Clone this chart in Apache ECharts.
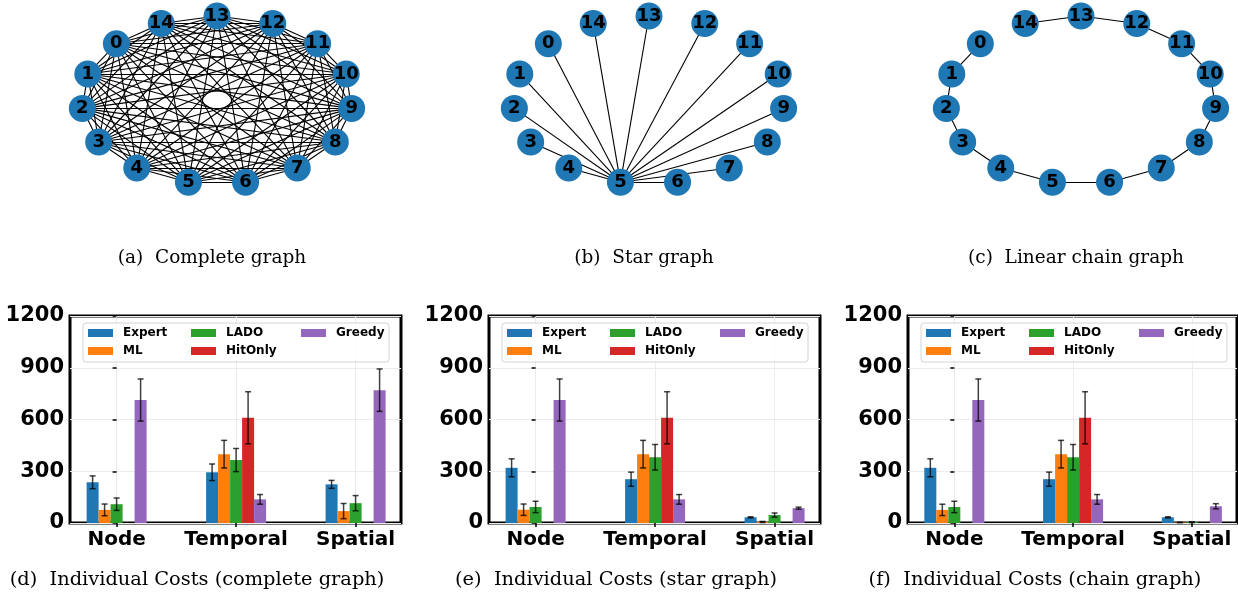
<!DOCTYPE html>
<html>
<head>
<meta charset="utf-8">
<script src="https://cdn.jsdelivr.net/npm/echarts@6.0.0/dist/echarts.min.js"></script>
<style>
  html, body { margin: 0; padding: 0; background: #fff; }
  #main { width: 1238px; height: 599px; }
</style>
</head>
<body>
<div id="main"></div>
<script>
// graph panels: 15 nodes on a circular layout (positions)
const nodeNames = ['0', '1', '2', '3', '4', '5', '6', '7', '8', '9', '10', '11', '12', '13', '14']
const nodeX = [-0.74, -0.95, -0.99, -0.87, -0.59, -0.21, 0.21, 0.59, 0.87, 0.99, 0.95, 0.74, 0.41, 0, -0.41]
const nodeY = [0.67, 0.31, -0.10, -0.50, -0.81, -0.98, -0.98, -0.81, -0.50, -0.10, 0.31, 0.67, 0.91, 1, 0.91]
const starEdges = [[5, 0], [5, 1], [5, 2], [5, 3], [5, 4], [5, 6], [5, 7], [5, 8], [5, 9], [5, 10], [5, 11], [5, 12], [5, 13], [5, 14]]
const chainEdges = [[0, 1], [1, 2], [2, 3], [3, 4], [4, 5], [5, 6], [6, 7], [7, 8], [8, 9], [9, 10], [10, 11], [11, 12], [12, 13], [13, 14]]
// complete graph = every pair of nodes
const completeEdges = []
for (let i = 0; i < nodeNames.length; i++) {
  for (let j = i + 1; j < nodeNames.length; j++) completeEdges.push([i, j])
}

// bar panels
const methods = ['Expert', 'ML', 'LADO', 'HitOnly', 'Greedy']
const methodColors = ['#1f77b4', '#ff7f0e', '#2ca02c', '#d62728', '#9467bd']
const costCategories = ['Node', 'Temporal', 'Spatial']
// rows follow methods, columns follow costCategories
const completeMean = [[236, 294, 224], [76, 399, 69], [109, 365, 115], [null, 610, null], [713, 137, 770]]
const completeErr = [[37, 48, 23], [34, 80, 44], [36, 67, 44], [null, 151, null], [122, 28, 123]]
const starMean = [[320, 254, 33], [77, 399, 6], [93, 381, 46], [null, 610, null], [713, 137, 86]]
const starErr = [[52, 41, 3], [33, 80, 3], [33, 74, 12], [null, 151, null], [122, 28, 6]]
const chainMean = [[320, 254, 33], [76, 399, 3], [93, 381, 5], [null, 610, null], [713, 137, 97]]
const chainErr = [[52, 41, 3], [33, 80, 1], [33, 74, 2], [null, 151, null], [122, 28, 15]]

const graphCaptions = ['(a)  Complete graph', '(b)  Star graph', '(c)  Linear chain graph']
const costCaptions = ['(d)  Individual Costs (complete graph)', '(e)  Individual Costs (star graph)', '(f)  Individual Costs (chain graph)']

const sans = 'DejaVu Sans'
const graphLefts = [81, 513, 945]
const barLefts = [70, 489, 908]
const barWidths = [331, 331, 329]
const barW = 12
const legendColumns = [['Expert', 'ML'], ['LADO', 'HitOnly'], ['Greedy']]
const legendOffsets = [18, 121, 231]

const chart = echarts.init(document.getElementById('main'))

const grids = []
const xAxes = []
const yAxes = []
const series = []
const legends = []
const graphics = []

// graph panels
const edgeSets = [completeEdges, starEdges, chainEdges]
edgeSets.forEach((edges, p) => {
  grids.push({ left: graphLefts[p], top: 16, width: 272, height: 168, show: false })
  xAxes.push({ type: 'value', gridIndex: p, min: -1, max: 1, show: false })
  yAxes.push({ type: 'value', gridIndex: p, min: -1, max: 1, show: false })
  series.push({
    type: 'graph',
    coordinateSystem: 'cartesian2d',
    xAxisIndex: p,
    yAxisIndex: p,
    silent: true,
    symbolSize: 27,
    itemStyle: { color: '#1f77b4' },
    label: {
      show: true, position: 'inside', formatter: '{b}',
      color: '#000', fontFamily: sans, fontWeight: 'bold', fontSize: 18
    },
    lineStyle: { color: '#000', width: 1.1, opacity: 1 },
    data: nodeNames.map((n, i) => ({ name: n, value: [nodeX[i], nodeY[i]] })),
    links: edges.map(e => ({ source: e[0], target: e[1] }))
  })
  graphics.push({
    type: 'text', x: graphLefts[p] + 131, y: 258,
    style: { text: graphCaptions[p], font: '18.5px "DejaVu Serif"', fill: '#000', textAlign: 'center', textVerticalAlign: 'middle' }
  })
})

// bar panels
const means = [completeMean, starMean, chainMean]
const errs = [completeErr, starErr, chainErr]
means.forEach((mean, p) => {
  const g = p + 3
  grids.push({
    left: barLefts[p], top: 316, width: barWidths[p], height: 207,
    show: true, borderColor: '#000', borderWidth: 3, backgroundColor: 'transparent'
  })
  xAxes.push({
    type: 'value', gridIndex: g, min: -0.39, max: 2.38,
    axisLine: { show: false },
    axisTick: { show: true, customValues: [0, 1, 2], length: 4, lineStyle: { color: '#000', width: 1.5 } },
    axisLabel: {
      customValues: [0, 1, 2],
      formatter: v => costCategories[Math.round(v)],
      color: '#000', fontFamily: sans, fontWeight: 'bold', fontSize: 20, margin: 7
    },
    splitLine: { show: true, lineStyle: { color: '#ebebeb', width: 1 } }
  })
  yAxes.push({
    type: 'value', gridIndex: g, min: 0, max: 1200, interval: 300,
    axisLine: { show: false },
    axisTick: { show: true, length: 4, lineStyle: { color: '#000', width: 1.5 } },
    axisLabel: {
      formatter: v => String(v),
      color: '#000', fontFamily: sans, fontWeight: 'bold', fontSize: 21, margin: 6
    },
    splitLine: { show: true, lineStyle: { color: '#ebebeb', width: 1 } }
  })
  methods.forEach((name, m) => {
    const rows = []
    const errRows = []
    mean[m].forEach((v, i) => {
      if (v == null) return
      rows.push([i, v])
      errRows.push([i, v, errs[p][m][i]])
    })
    series.push({
      type: 'bar', name: name, xAxisIndex: g, yAxisIndex: g,
      barWidth: barW, barGap: '0%', silent: true,
      itemStyle: { color: methodColors[m] },
      data: rows
    })
    series.push({
      type: 'custom', name: name + ' err', xAxisIndex: g, yAxisIndex: g,
      silent: true, z: 4,
      data: errRows,
      renderItem: (params, api) => {
        const x = api.value(0), v = api.value(1), e = api.value(2)
        const hi = api.coord([x, v + e])
        const lo = api.coord([x, v - e])
        const cx = hi[0] + (m - 2) * barW
        const style = { stroke: 'rgba(0,0,0,0.75)', lineWidth: 1.5 }
        return {
          type: 'group',
          children: [
            { type: 'line', shape: { x1: cx, y1: hi[1], x2: cx, y2: lo[1] }, style },
            { type: 'line', shape: { x1: cx - 3, y1: hi[1], x2: cx + 3, y2: hi[1] }, style },
            { type: 'line', shape: { x1: cx - 3, y1: lo[1], x2: cx + 3, y2: lo[1] }, style }
          ]
        }
      }
    })
  })
  legendColumns.forEach((col, c) => {
    legends.push({
      data: col, orient: 'vertical', left: barLefts[p] + legendOffsets[c], top: 326,
      padding: 0, itemWidth: 25, itemHeight: 8, itemGap: 4, icon: 'rect',
      selectedMode: false, z: 8,
      textStyle: { color: '#000', fontFamily: sans, fontWeight: 'bold', fontSize: 12, lineHeight: 14, padding: [0, 0, 0, 5] }
    })
  })
  graphics.push({
    type: 'rect', z: 7,
    shape: { x: barLefts[p] + 13, y: 323, width: 306, height: 39, r: 3 },
    style: { fill: 'rgba(255,255,255,0.85)', stroke: '#d4d4d4', lineWidth: 1 }
  })
  graphics.push({
    type: 'text', x: barLefts[p] + 127, y: 580,
    style: { text: costCaptions[p], font: '19.4px "DejaVu Serif"', fill: '#000', textAlign: 'center', textVerticalAlign: 'middle' }
  })
})

chart.setOption({
  animation: false,
  backgroundColor: '#fff',
  grid: grids,
  xAxis: xAxes,
  yAxis: yAxes,
  legend: legends,
  graphic: graphics,
  series: series
})
</script>
</body>
</html>
